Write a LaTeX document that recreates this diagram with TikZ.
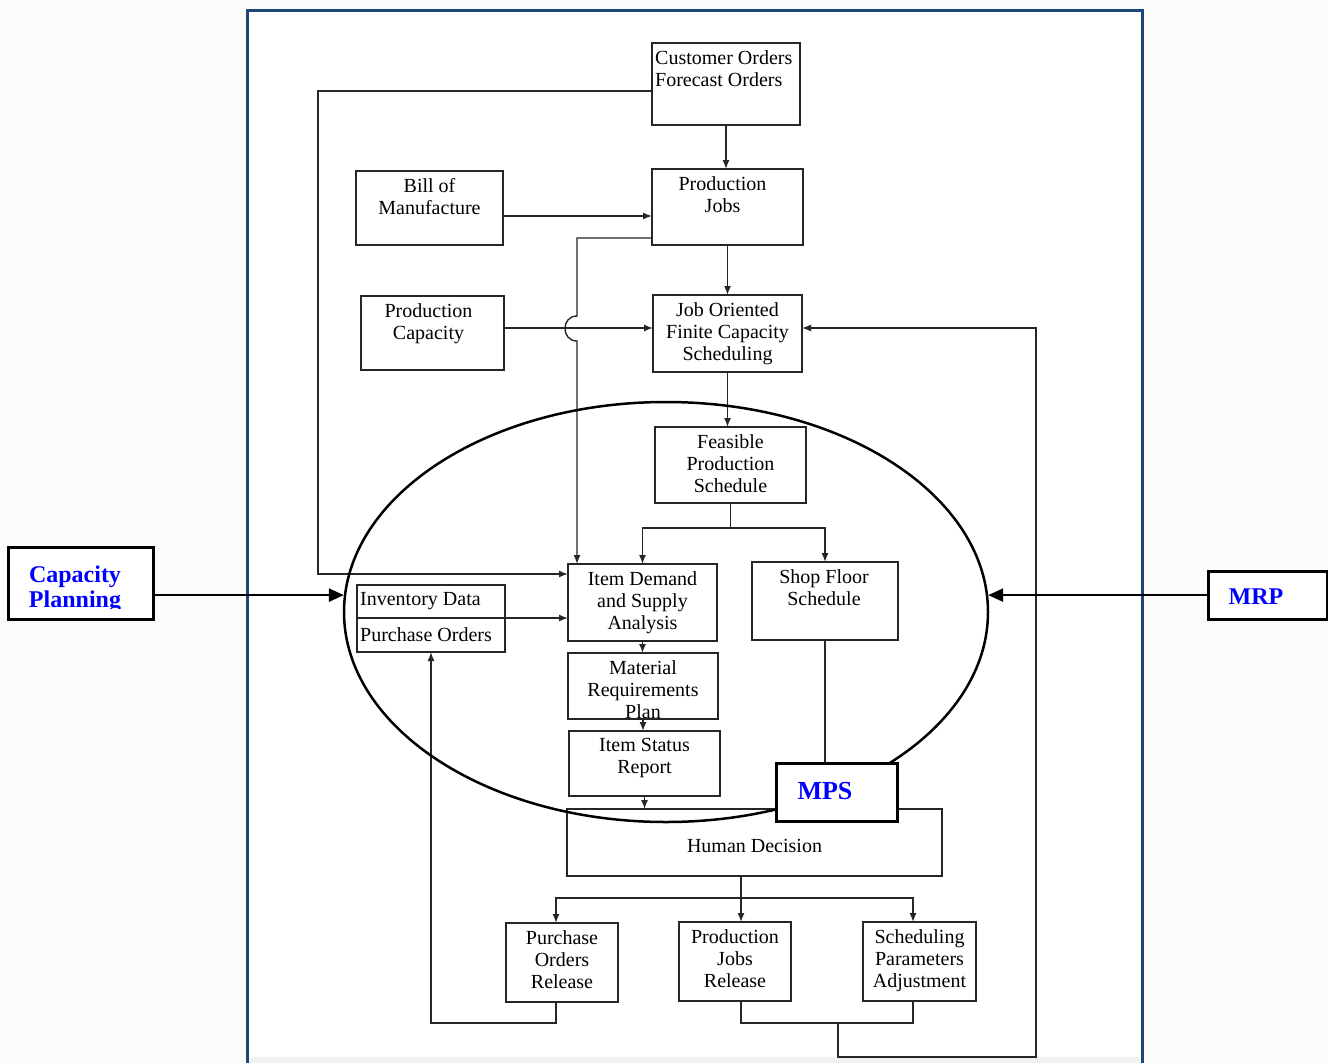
\documentclass[tikz,border=0pt]{standalone}
\usepackage{fontspec}
\setmainfont{Liberation Serif}
\usetikzlibrary{arrows.meta,shapes.geometric}
\definecolor{framec}{RGB}{30,70,120}
\definecolor{tagblue}{RGB}{0,0,255}
\tikzset{
  box/.style={draw=black!85, line width=1.4pt, inner sep=0pt, outer sep=0pt},
  lbl/.style={font=\fontsize{20}{22}\selectfont, align=center, inner sep=0pt, text=black},
  conn/.style={draw=black!85, line width=1.4pt},
  arr/.style={conn, -{Latex[length=9pt,width=7pt]}},
  bigarr/.style={draw=black, line width=2.5pt, -{Triangle[length=15pt,width=13pt]}},
  tag/.style={draw=black, line width=3pt, fill=white, inner sep=0pt, outer sep=0pt},
  tagtxt/.style={font=\bfseries\fontsize{24}{25}\selectfont, text=tagblue, inner sep=0pt, align=center},
}
\begin{document}
\begin{tikzpicture}[x=1pt,y=-1pt]
\useasboundingbox (0,0) rectangle (1328,1063);
\fill[gray!3] (0,0) rectangle (1328,1063);
\fill[white] (247,10) rectangle (1142,1063);
\fill[gray!12] (249,1057) rectangle (1140,1063);
\draw[framec, line width=3pt] (247,1063) -- (247,10) -- (1142,10) -- (1142,1063);

% boxes
\node[box, minimum width=148pt, minimum height=82pt] (cust) at (726,84) {};
\node[box, minimum width=151pt, minimum height=76pt] (pjobs) at (727.5,207) {};
\node[box, minimum width=147pt, minimum height=74pt] (bom) at (429.5,208) {};
\node[box, minimum width=143pt, minimum height=74pt] (pcap) at (432.5,333) {};
\node[box, minimum width=149pt, minimum height=77pt] (jofcs) at (727.5,333.5) {};
\node[box, minimum width=151pt, minimum height=76pt] (fps) at (730.5,465) {};
\node[box, minimum width=149pt, minimum height=77pt] (idsa) at (642.5,602.5) {};
\node[box, minimum width=146pt, minimum height=78pt] (sfs) at (825,601) {};
\node[box, minimum width=148pt, minimum height=33pt] (inv) at (431,601.5) {};
\node[box, minimum width=148pt, minimum height=34pt] (po) at (431,635) {};
\node[box, minimum width=150pt, minimum height=66pt] (mrpp) at (643,686) {};
\node[box, minimum width=151pt, minimum height=65pt] (isr) at (644.5,763.5) {};
\node[box, minimum width=375pt, minimum height=67pt] (hd) at (754.5,842.5) {};
\node[box, minimum width=112pt, minimum height=79pt] (por) at (562,962.5) {};
\node[box, minimum width=112pt, minimum height=79pt] (pjr) at (735,961.5) {};
\node[box, minimum width=113pt, minimum height=79pt] (spa) at (919.5,961.5) {};

% labels
\node[lbl, anchor=north west, align=left] (custT) at ([shift={(3pt,-7pt)}]cust.north west) {Customer Orders\\Forecast Orders};
\node[lbl, anchor=north] (pjobsT) at ([shift={(-5pt,-7pt)}]pjobs.north) {Production\\Jobs};
\node[lbl, anchor=north] (bomT) at ([shift={(0pt,-7pt)}]bom.north) {Bill of\\Manufacture};
\node[lbl, anchor=north] (pcapT) at ([shift={(-4pt,-7pt)}]pcap.north) {Production\\Capacity};
\node[lbl, anchor=north] (jofcsT) at ([shift={(0pt,-7pt)}]jofcs.north) {Job Oriented\\Finite Capacity\\Scheduling};
\node[lbl, anchor=north] (fpsT) at ([shift={(0pt,-7pt)}]fps.north) {Feasible\\Production\\Schedule};
\node[lbl, anchor=north] (idsaT) at ([shift={(0pt,-7pt)}]idsa.north) {Item Demand\\and Supply\\Analysis};
\node[lbl, anchor=north] (sfsT) at ([shift={(-1pt,-7pt)}]sfs.north) {Shop Floor\\Schedule};
\node[lbl, anchor=west] (invT) at ([xshift=3pt]inv.west) {Inventory Data};
\node[lbl, anchor=west] (poT) at ([xshift=3pt]po.west) {Purchase Orders};
\node[lbl, anchor=north] (mrppT) at ([shift={(0pt,-7pt)}]mrpp.north) {Material\\Requirements\\Plan};
\node[lbl, anchor=north] (isrT) at ([shift={(0pt,-7pt)}]isr.north) {Item Status\\Report};
\node[lbl] (hdT) at ([yshift=-3pt]hd.center) {Human Decision};
\node[lbl, anchor=north] (porT) at ([shift={(0pt,-7pt)}]por.north) {Purchase\\Orders\\Release};
\node[lbl, anchor=north] (pjrT) at ([shift={(0pt,-7pt)}]pjr.north) {Production\\Jobs\\Release};
\node[lbl, anchor=north] (spaT) at ([shift={(0pt,-7pt)}]spa.north) {Scheduling\\Parameters\\Adjustment};

% connectors
\coordinate (k1) at (318,91);
\coordinate (k2) at (318,574);
\draw[arr] ([yshift=-7pt]cust.west) -- (k1) -- (k2) -- (k2 -| idsa.west);
\draw[arr] (cust.south) -- (cust.south |- pjobs.north);
\coordinate (bomo) at ([yshift=-8pt]bom.east);
\draw[arr] (bomo) -- (bomo -| pjobs.west);
\coordinate (h1) at (577,238);
\coordinate (h2) at (577,316);
\coordinate (h3) at (577,341);
\draw[arr] (h1 -| pjobs.west) -- (h1) -- (h2) .. controls (561,316) and (561,341) .. (h3) -- (h3 |- idsa.north);
\coordinate (pco) at ([yshift=5pt]pcap.east);
\draw[arr] (pco) -- (pco -| jofcs.west);
\draw[arr] (pjobs.south) -- (jofcs.north);
\draw[arr] (jofcs.south) -- (jofcs.south |- fps.north);
\coordinate (spy) at (0,528);
\coordinate (sp) at (fps.south |- spy);
\draw[conn] (fps.south) -- (sp);
\draw[arr] (sp) -| (idsa.north);
\draw[arr] (sp) -| (sfs.north);
\coordinate (poe) at (po.north east);
\draw[arr] (poe) -- (poe -| idsa.west);
\draw[arr] (idsa.south) -- (idsa.south |- mrpp.north);
\draw[arr] (mrpp.south) -- (mrpp.south |- isr.north);
\draw[arr] (isr.south) -- (isr.south |- hd.north);
\draw[conn] (sfs.south) -- (sfs.south |- hd.north);
\coordinate (s2) at (741,898);
\coordinate (porN) at ([xshift=-6pt]por.north);
\coordinate (spaN) at ([xshift=-6.5pt]spa.north);
\draw[conn] (hd.south -| s2) -- (s2);
\draw[arr] (s2) -- (s2 |- pjr.north);
\draw[arr] (s2) -| (porN);
\draw[arr] (s2) -| (spaN);
\coordinate (porS) at ([xshift=-6pt]por.south);
\coordinate (b1) at (431,1023);
\draw[arr] (porS) |- (b1) -- (b1 |- po.south);
\coordinate (pjrS) at ([xshift=6pt]pjr.south);
\coordinate (spaS) at ([xshift=-6.5pt]spa.south);
\coordinate (b2) at (0,1023);
\draw[conn] (pjrS) -- (pjrS |- b2) -- (spaS |- b2) -- (spaS);
\coordinate (b3) at (838,1023);
\coordinate (b4) at (1036,1057);
\coordinate (joe) at ([yshift=5.5pt]jofcs.east);
\draw[arr] (b3) |- (b4) |- (joe);

% ellipse
\node[draw=black, line width=2.5pt, ellipse, minimum width=644pt, minimum height=420pt, inner sep=0pt] (ell) at (666,612) {};

% tags
\node[tag, minimum width=145pt, minimum height=72pt] (cp) at (80.5,583) {};
\node[tag, minimum width=119pt, minimum height=48pt] (mrp) at (1267.5,595) {};
\node[tag, minimum width=121pt, minimum height=58pt] (mps) at (836.5,792) {};
\begin{scope}
\clip (10,549) rectangle (151,608);
\node[tagtxt, anchor=north] (cpT) at (75,566) {Capacity\\Planning};
\end{scope}
\node[tagtxt, anchor=base] (mrpT) at (1256,604) {MRP};
\node[tagtxt, anchor=base, font=\bfseries\fontsize{26}{27}\selectfont] (mpsT) at (825,799) {MPS};

\coordinate (cpo) at (cp.east |- ell.177);
\draw[bigarr] (cpo) -- (ell.177);
\coordinate (mrpo) at (mrp.west |- ell.3);
\draw[bigarr] (mrpo) -- (ell.3);
\end{tikzpicture}
\end{document}
